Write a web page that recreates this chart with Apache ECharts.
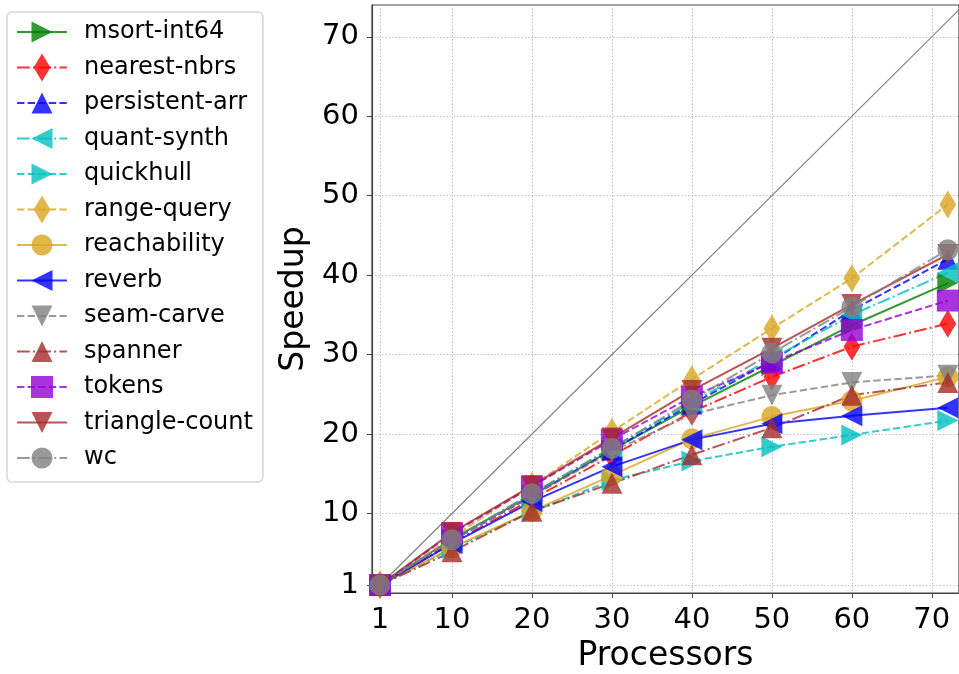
<!DOCTYPE html>
<html>
<head>
<meta charset="utf-8">
<title>Speedup</title>
<script src="https://cdn.jsdelivr.net/npm/echarts@6/dist/echarts.min.js"></script>
<style>
    html, body { margin: 0; padding: 0; background: #fff; }
    #main { width: 959px; height: 674px; }
</style>
</head>
<body>
<div id="main"></div>
<script type="text/javascript">
    // x positions (processors) and tick labels
    var procs = [1, 10, 20, 30, 40, 50, 60, 72];
    var ticks = [1, 10, 20, 30, 40, 50, 60, 70];
    var ideal = [0, 74];

    // speedup per benchmark
    var msortInt64    = [1, 6.8, 12.3, 18.0, 23.5, 28.6, 33.7, 39.0];
    var nearestNbrs   = [1, 6.3, 11.8, 17.3, 22.8, 27.2, 31.0, 33.9];
    var persistentArr = [1, 6.6, 12.2, 18.0, 23.8, 29.2, 35.6, 42.0];
    var quantSynth    = [1, 6.7, 12.5, 18.3, 24.0, 29.5, 35.0, 40.3];
    var quickhull     = [1, 5.6, 10.2, 14.2, 16.6, 18.4, 19.9, 21.7];
    var rangeQuery    = [1, 7.0, 13.5, 20.3, 26.9, 33.3, 39.6, 48.9];
    var reachability  = [1, 5.7, 10.3, 14.8, 19.4, 22.2, 24.2, 27.2];
    var reverb        = [1, 6.2, 11.5, 15.9, 19.3, 21.3, 22.3, 23.3];
    var seamCarve     = [1, 6.6, 12.2, 17.8, 22.5, 24.9, 26.5, 27.4];
    var spanner       = [1, 5.2, 10.3, 13.8, 17.4, 20.8, 24.9, 26.5];
    var tokens        = [1, 7.5, 13.4, 19.3, 24.7, 29.0, 33.1, 36.8];
    var triangleCount = [1, 7.6, 13.5, 19.5, 25.5, 30.8, 36.3, 42.6];
    var wc            = [1, 6.7, 12.5, 18.2, 24.3, 30.2, 36.0, 43.2];

    var names = ['msort-int64', 'nearest-nbrs', 'persistent-arr', 'quant-synth', 'quickhull',
        'range-query', 'reachability', 'reverb', 'seam-carve', 'spanner', 'tokens',
        'triangle-count', 'wc'];
    var values = [msortInt64, nearestNbrs, persistentArr, quantSynth, quickhull,
        rangeQuery, reachability, reverb, seamCarve, spanner, tokens,
        triangleCount, wc];

    // marker shapes, all drawn in the same 28x28 box so legend and plot agree
    var BOX = 'M0,0 M28,28 ';
    var shapes = {
        circle: BOX + 'M3.5,14 A10.5,10.5 0 1 1 24.5,14 A10.5,10.5 0 1 1 3.5,14 Z',
        square: BOX + 'M3,3 L25,3 L25,25 L3,25 Z',
        diamond: BOX + 'M14,0 L22.4,14 L14,28 L5.6,14 Z',
        up: BOX + 'M14,3.5 L24.5,24.5 L3.5,24.5 Z',
        down: BOX + 'M3.5,3.5 L24.5,3.5 L14,24.5 Z',
        right: BOX + 'M3.5,3.5 L24.5,14 L3.5,24.5 Z',
        left: BOX + 'M24.5,3.5 L24.5,24.5 L3.5,14 Z'
    };
    var dashed = [7.4, 3.2];
    var dashdot = [12.8, 3.2, 2, 3.2];

    var looks = [
        {color: '#008000', dash: 'solid', shape: 'right'},
        {color: '#ff0000', dash: dashdot, shape: 'diamond'},
        {color: '#0000ff', dash: dashed, shape: 'up'},
        {color: '#00bfbf', dash: dashdot, shape: 'left'},
        {color: '#00bfbf', dash: dashed, shape: 'right'},
        {color: '#daa520', dash: dashed, shape: 'diamond'},
        {color: '#daa520', dash: 'solid', shape: 'circle'},
        {color: '#0000ff', dash: 'solid', shape: 'left'},
        {color: '#808080', dash: dashed, shape: 'down'},
        {color: '#a52a2a', dash: dashdot, shape: 'up'},
        {color: '#9400d3', dash: dashed, shape: 'square'},
        {color: '#a52a2a', dash: 'solid', shape: 'down'},
        {color: '#808080', dash: dashdot, shape: 'circle'}
    ];

    var font = 'DejaVu Sans';

    var series = [{
        name: 'ideal',
        type: 'line',
        data: ideal.map(function (v) { return [v, v]; }),
        symbol: 'none',
        silent: true,
        lineStyle: {color: '#808080', width: 1.2},
        z: 1
    }];

    names.forEach(function (name, i) {
        var lk = looks[i];
        series.push({
            name: name,
            type: 'line',
            data: procs.map(function (p, j) { return [p, values[i][j]]; }),
            symbol: 'path://' + shapes[lk.shape],
            symbolSize: 28,
            showSymbol: true,
            color: lk.color,
            itemStyle: {color: lk.color, opacity: 0.8, borderWidth: 0},
            lineStyle: {color: lk.color, width: 2, type: lk.dash, opacity: 0.8},
            emphasis: {disabled: true},
            z: 2
        });
    });

    var option = {
        animation: false,
        backgroundColor: '#fff',
        textStyle: {fontFamily: font},
        grid: {
            left: 372,
            top: 5,
            right: 0,
            bottom: 81,
            containLabel: false,
            outerBoundsMode: 'none',
            show: true,
            borderColor: '#444',
            borderWidth: 1.2
        },
        legend: {
            data: names,
            orient: 'vertical',
            left: 7,
            top: 12,
            itemWidth: 50,
            itemHeight: 35,
            itemGap: 7.5,
            padding: [6, 10, 10, 9],
            backgroundColor: '#fff',
            borderColor: '#d6d6d6',
            borderWidth: 1.5,
            borderRadius: 5,
            textStyle: {fontFamily: font, fontSize: 24, color: '#000', padding: [0, 0, 0, 12]}
        },
        xAxis: {
            type: 'value',
            min: 0,
            max: 73.4,
            name: 'Processors',
            nameLocation: 'middle',
            nameGap: 44,
            nameTextStyle: {fontFamily: font, fontSize: 33, color: '#000'},
            axisLine: {show: true, onZero: false, lineStyle: {color: '#444', width: 1.2}},
            axisTick: {show: true, customValues: ticks, length: 5, lineStyle: {color: '#444'}},
            axisLabel: {customValues: ticks, fontSize: 29, color: '#000', margin: 13, fontFamily: font},
            splitLine: {show: true, lineStyle: {color: '#b4b4b4', type: [1.2, 2.2], width: 1}}
        },
        yAxis: {
            type: 'value',
            min: 0,
            max: 74,
            name: 'Speedup',
            nameLocation: 'middle',
            nameGap: 60,
            nameRotate: 90,
            nameTextStyle: {fontFamily: font, fontSize: 33, color: '#000'},
            axisLine: {show: true, onZero: false, lineStyle: {color: '#444', width: 1.2}},
            axisTick: {show: true, customValues: ticks, length: 5, lineStyle: {color: '#444'}},
            axisLabel: {customValues: ticks, fontSize: 29, color: '#000', margin: 13, fontFamily: font},
            splitLine: {show: true, lineStyle: {color: '#b4b4b4', type: [1.2, 2.2], width: 1}}
        },
        series: series
    };

    var chart = echarts.init(document.getElementById('main'), null, {renderer: 'canvas'});
    chart.setOption(option);
</script>
</body>
</html>
